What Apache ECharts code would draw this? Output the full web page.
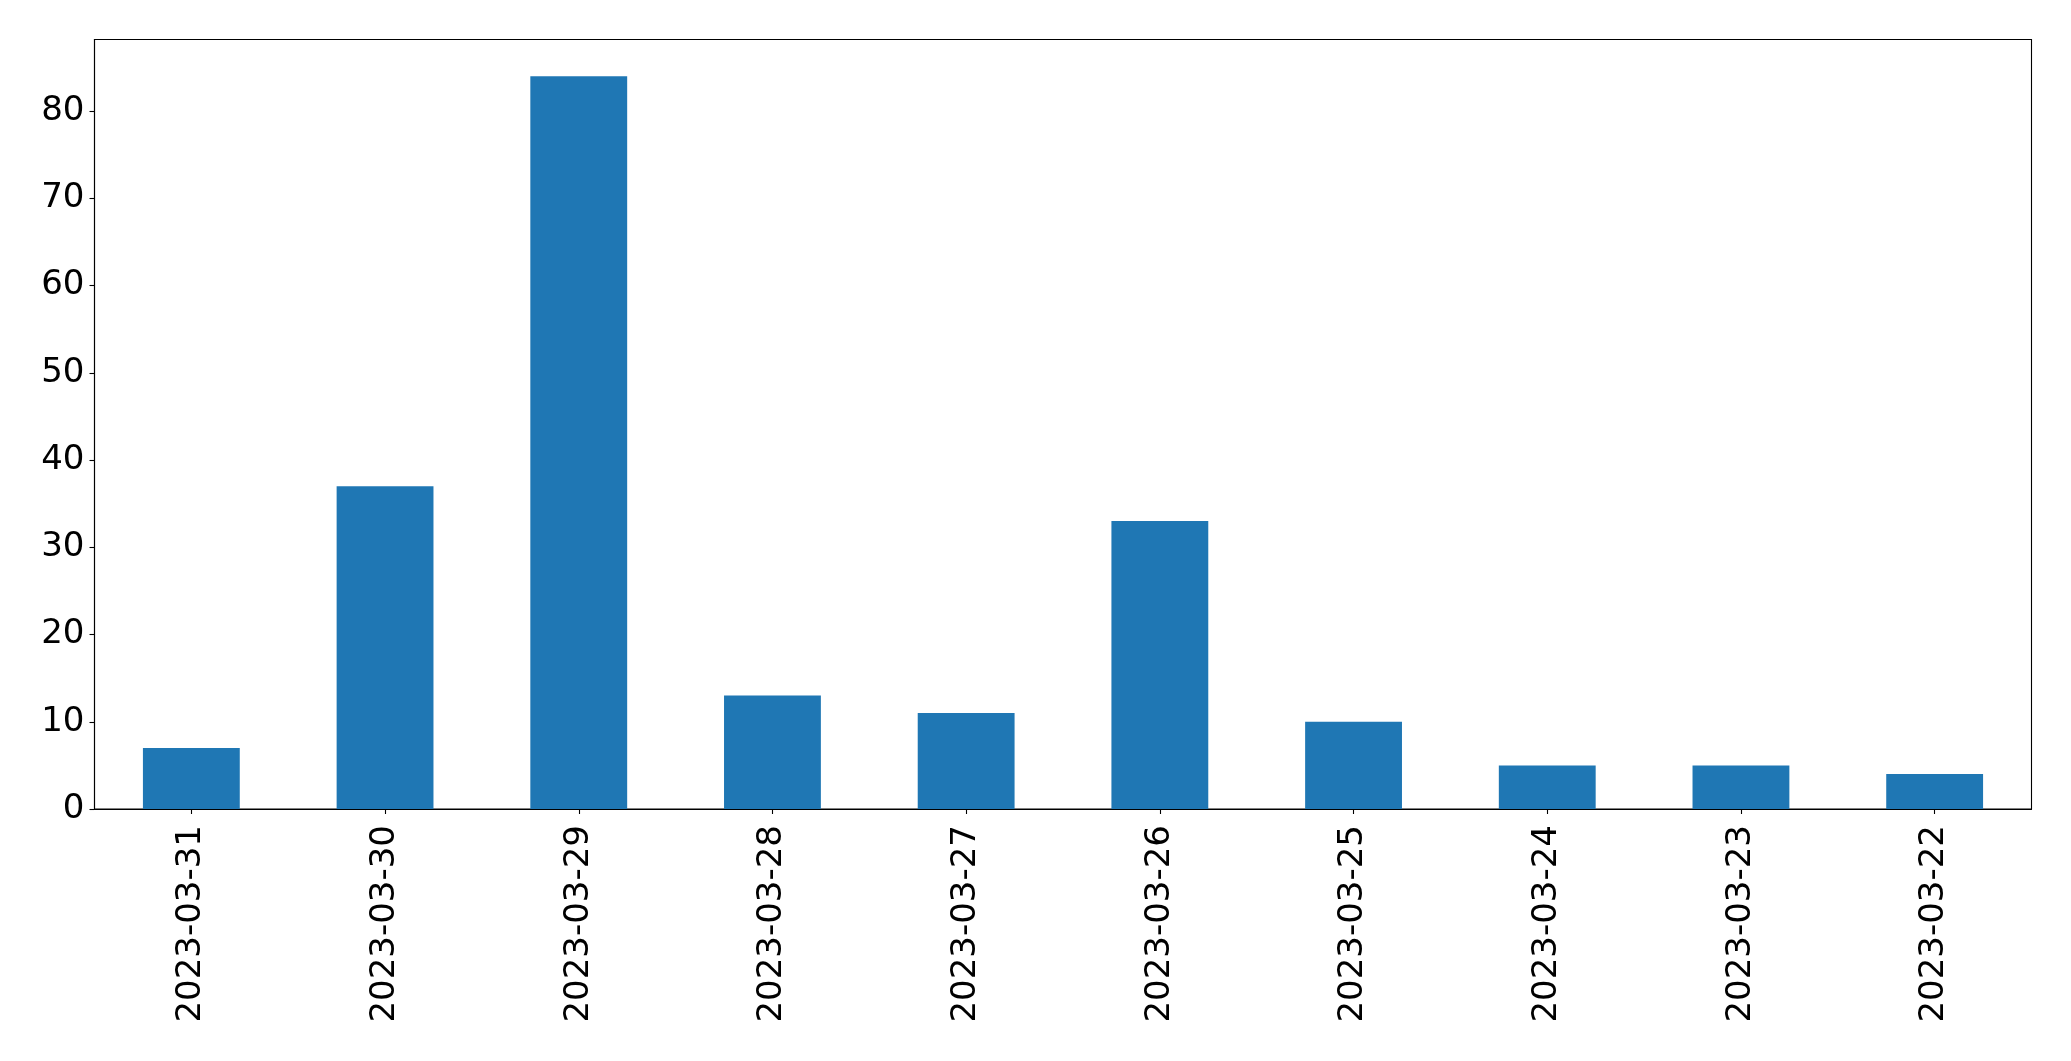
<!DOCTYPE html>
<html>
<head>
<meta charset="utf-8">
<script src="https://cdn.jsdelivr.net/npm/echarts@6/dist/echarts.min.js"></script>
<style>
html,body{margin:0;padding:0;background:#fff;}
#chart{width:2071px;height:1061px;}
</style>
</head>
<body>
<div id="chart"></div>
<script>
const categories = ['2023-03-31','2023-03-30','2023-03-29','2023-03-28','2023-03-27','2023-03-26','2023-03-25','2023-03-24','2023-03-23','2023-03-22'];
const values = [7, 37, 84, 13, 11, 33, 10, 5, 5, 4];
const yTicks = [0, 10, 20, 30, 40, 50, 60, 70, 80];

const chart = echarts.init(document.getElementById('chart'), null, {renderer: 'canvas'});
const font = 'DejaVu Sans';
chart.setOption({
  animation: false,
  backgroundColor: '#ffffff',
  grid: {left: 94.5, right: 39.5, top: 39.5, bottom: 252, containLabel: false,
         show: true, borderColor: '#000', borderWidth: 1.1, backgroundColor: 'transparent'},
  xAxis: {
    type: 'category',
    data: categories,
    boundaryGap: true,
    axisLine: {show: true, lineStyle: {color: '#000', width: 1.1}},
    axisTick: {show: true, alignWithLabel: true, length: 5, lineStyle: {color: '#000', width: 1.1}},
    axisLabel: {rotate: 90, color: '#000', fontFamily: font, fontSize: 34, margin: 16, interval: 0},
    splitLine: {show: false}
  },
  yAxis: {
    type: 'value',
    min: 0,
    max: 88.2,
    axisLine: {show: true, lineStyle: {color: '#000', width: 1.1}},
    axisTick: {show: true, length: 5, customValues: yTicks, lineStyle: {color: '#000', width: 1.1}},
    axisLabel: {color: '#000', fontFamily: font, fontSize: 34, margin: 10, customValues: yTicks,
      formatter: function (v) { return String(v); }},
    splitLine: {show: false}
  },
  series: [{
    type: 'bar',
    data: values,
    barWidth: '50%',
    itemStyle: {color: '#1f77b4'}
  }]
});
</script>
</body>
</html>
